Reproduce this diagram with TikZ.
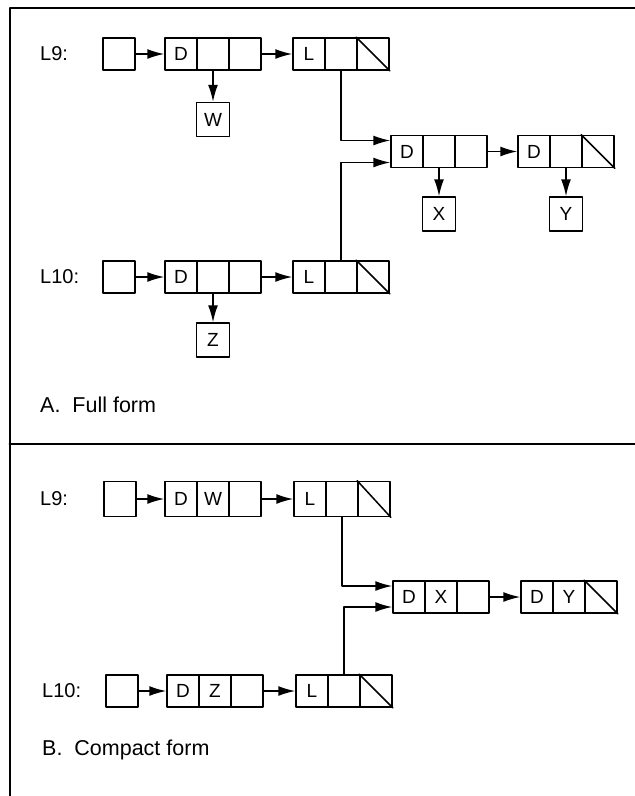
\documentclass[tikz,border=0pt]{standalone}
\usepackage{fontspec}
\setmainfont{Liberation Sans}
\usetikzlibrary{arrows.meta}

\tikzset{
  cell/.style={draw, line width=1.5pt, minimum width=32pt, minimum height=32pt,
    inner sep=0pt, font=\fontsize{19}{21}\selectfont},
  atom/.style={cell, minimum width=33pt, minimum height=34pt},
  lbl/.style={anchor=west, inner sep=0pt, font=\fontsize{20}{22}\selectfont},
  caption/.style={anchor=west, inner sep=0pt, font=\fontsize{21.5}{24}\selectfont},
  link/.style={->, line width=1.5pt},
}

\begin{document}
\begin{tikzpicture}[x=1pt, y=-1pt, line cap=round, line join=round,
    >={Latex[length=17pt,width=10pt]}]
  \useasboundingbox (0,0) rectangle (635,796);

  % Frame and divider
  \draw[line width=2pt] (635,8) -- (9.5,8) -- (9.5,796);
  \draw[line width=2pt] (9.5,444) -- (635,444);

  % ---------- A. Full form ----------
  % L9 row
  \node[lbl] (aL9) at (40,54) {L9:};
  \node[cell] (a9p) at (119,54) {};
  \node[cell] (a9d1) at (181,54) {D};
  \node[cell] (a9d2) at (213,54) {};
  \node[cell] (a9d3) at (245,54) {};
  \node[cell] (a9l1) at (309,54) {L};
  \node[cell] (a9l2) at (341,54) {};
  \node[cell] (a9l3) at (373,54) {};
  \draw[line width=1.5pt] (a9l3.north west) -- (a9l3.south east);
  \node[atom] (aW) at (213,119.5) {W};

  % shared sublist
  \node[cell] (asd1) at (407,151.5) {D};
  \node[cell] (asd2) at (439,151.5) {};
  \node[cell] (asd3) at (471,151.5) {};
  \node[cell] (ase1) at (534,151.5) {D};
  \node[cell] (ase2) at (566,151.5) {};
  \node[cell] (ase3) at (598,151.5) {};
  \draw[line width=1.5pt] (ase3.north west) -- (ase3.south east);
  \node[atom] (aX) at (439,214) {X};
  \node[atom] (aY) at (566,214) {Y};

  % L10 row
  \node[lbl] (aL10) at (40,277) {L10:};
  \node[cell] (a10p) at (119,277) {};
  \node[cell] (a10d1) at (181,277) {D};
  \node[cell] (a10d2) at (213,277) {};
  \node[cell] (a10d3) at (245,277) {};
  \node[cell] (a10l1) at (309,277) {L};
  \node[cell] (a10l2) at (341,277) {};
  \node[cell] (a10l3) at (373,277) {};
  \draw[line width=1.5pt] (a10l3.north west) -- (a10l3.south east);
  \node[atom] (aZ) at (213,340) {Z};

  \node[caption] (capA) at (40,405) {A.\ \ Full form};

  % links
  \draw[link] (a9p) -- (a9d1);
  \draw[link] (a9d3) -- (a9l1);
  \draw[link] (a9d2) -- (aW);
  \draw[link] (a9l2.south) |- ([yshift=11pt]asd1.west);
  \draw[link] (a10l2.north) |- ([yshift=-11pt]asd1.west);
  \draw[link] (asd3) -- (ase1);
  \draw[link] (asd2) -- (aX);
  \draw[link] (ase2) -- (aY);
  \draw[link] (a10p) -- (a10d1);
  \draw[link] (a10d3) -- (a10l1);
  \draw[link] (a10d2) -- (aZ);

  % ---------- B. Compact form ----------
  % L9 row
  \node[lbl] (bL9) at (40,499) {L9:};
  \node[cell, minimum height=35pt] (b9p) at (120,499) {};
  \node[cell, minimum height=35pt] (b9d1) at (181,499) {D};
  \node[cell, minimum height=35pt] (b9d2) at (213,499) {W};
  \node[cell, minimum height=35pt] (b9d3) at (245,499) {};
  \node[cell, minimum height=35pt] (b9l1) at (310,499) {L};
  \node[cell, minimum height=35pt] (b9l2) at (342,499) {};
  \node[cell, minimum height=35pt] (b9l3) at (374,499) {};
  \draw[line width=1.5pt] (b9l3.north west) -- (b9l3.south east);

  % shared sublist
  \node[cell] (bsd1) at (409,597) {D};
  \node[cell] (bsd2) at (441,597) {X};
  \node[cell] (bsd3) at (473,597) {};
  \node[cell] (bse1) at (537,597) {D};
  \node[cell] (bse2) at (569,597) {Y};
  \node[cell] (bse3) at (601,597) {};
  \draw[line width=1.5pt] (bse3.north west) -- (bse3.south east);

  % L10 row
  \node[lbl] (bL10) at (42,691) {L10:};
  \node[cell] (b10p) at (122,691) {};
  \node[cell] (b10d1) at (183,691) {D};
  \node[cell] (b10d2) at (215,691) {Z};
  \node[cell] (b10d3) at (247,691) {};
  \node[cell] (b10l1) at (312,691) {L};
  \node[cell] (b10l2) at (344,691) {};
  \node[cell] (b10l3) at (376,691) {};
  \draw[line width=1.5pt] (b10l3.north west) -- (b10l3.south east);

  \node[caption] (capB) at (42,750) {B.\ \ Compact form};

  % links
  \draw[link] (b9p) -- (b9d1);
  \draw[link] (b9d3) -- (b9l1);
  \draw[link] (b9l2.south) |- ([yshift=11pt]bsd1.west);
  \draw[link] (b10l2.north) |- ([yshift=-10pt]bsd1.west);
  \draw[link] (bsd3) -- (bse1);
  \draw[link] (b10p) -- (b10d1);
  \draw[link] (b10d3) -- (b10l1);
\end{tikzpicture}
\end{document}
